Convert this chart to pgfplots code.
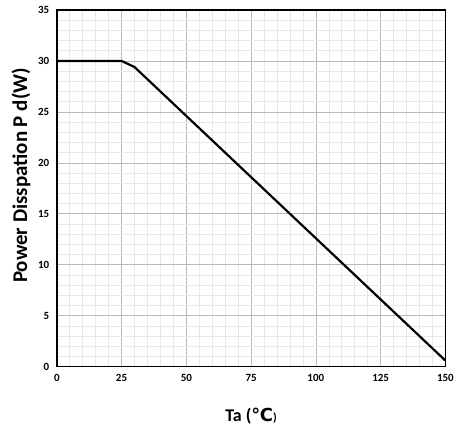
\documentclass[border=0pt]{standalone}
\usepackage{pgfplots}
\pgfplotsset{compat=1.18}
\usepackage{fontspec}
\setmainfont{Carlito}
\newfontfamily\symfont{DejaVu Sans}
\begin{document}
\begin{tikzpicture}
\begin{axis}[
  scale only axis,
  width=390pt, height=358pt,
  xmin=0, xmax=150, ymin=0, ymax=35,
  xtick={0,25,...,150}, ytick={0,5,...,35},
  minor x tick num=4, minor y tick num=4,
  grid=both,
  major grid style={gray!55, line width=0.6pt},
  minor grid style={gray!18, line width=0.5pt},
  axis line style={black, line width=1.6pt},
  tick style={draw=none},
  /pgf/number format/assume math mode=true,
  ticklabel style={font=\fontsize{11}{13}\selectfont\bfseries},
  xticklabel style={yshift=-4pt},
  yticklabel style={xshift=-4pt},
  xlabel={\bfseries Ta (\raisebox{0pt}{\symfont\bfseries ℃}\fontsize{12}{14}\selectfont)},
  ylabel={\bfseries Power Disspation P d(W)},
  xlabel style={font=\fontsize{18}{21}\selectfont, yshift=-20pt},
  ylabel style={font=\fontsize{21}{25}\selectfont, at={(ticklabel cs:0.536)}, yshift=1pt},
]
\addplot[black, line width=2.2pt, line join=round] coordinates {(0,30) (25,30) (30,29.4) (150,0.6)};
\end{axis}
\path ([xshift=-57pt,yshift=-62pt]current axis.south west) rectangle ([xshift=10pt,yshift=10pt]current axis.north east);
\end{tikzpicture}
\end{document}
